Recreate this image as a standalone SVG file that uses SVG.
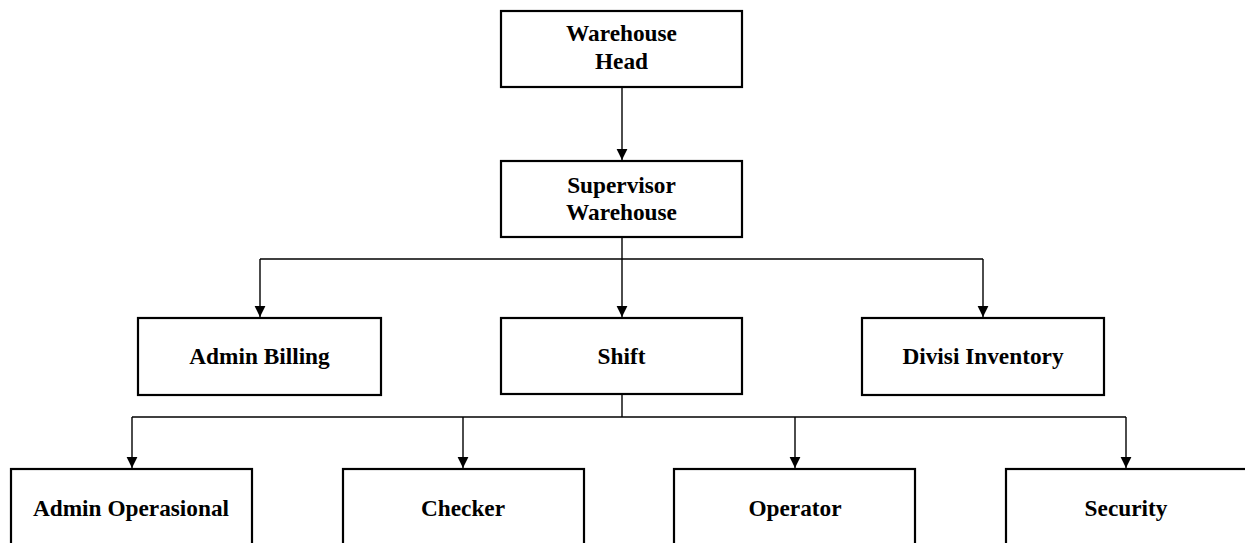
<svg xmlns="http://www.w3.org/2000/svg" width="1245" height="543" viewBox="0 0 1245 543">
<style>
.box{fill:#fff;stroke:#000;stroke-width:2.2}
.lbl{font-family:"Liberation Serif","Times New Roman",serif;font-weight:bold;font-size:23.3px;fill:#000;text-anchor:middle}
.con{fill:none;stroke:#000;stroke-width:1.4}
</style>
<defs>
<marker id="arr" markerUnits="userSpaceOnUse" markerWidth="12" markerHeight="12" viewBox="0 0 12 12" refX="11" refY="6" orient="auto">
<path d="M0,0.6 L11,6 L0,11.4 Z" fill="#000"/>
</marker>
</defs>
<rect width="1245" height="543" fill="#fff"/>
<g id="connectors">
<path class="con" d="M622,87 V160" marker-end="url(#arr)"/>
<path class="con" d="M622,237 V317" marker-end="url(#arr)"/>
<path class="con" d="M260,259 H983"/>
<path class="con" d="M260,259 V317" marker-end="url(#arr)"/>
<path class="con" d="M983,259 V317" marker-end="url(#arr)"/>
<path class="con" d="M622,394 V417"/>
<path class="con" d="M132,417 H1126"/>
<path class="con" d="M132,417 V468" marker-end="url(#arr)"/>
<path class="con" d="M463,417 V468" marker-end="url(#arr)"/>
<path class="con" d="M795,417 V468" marker-end="url(#arr)"/>
<path class="con" d="M1126,417 V468" marker-end="url(#arr)"/>
</g>
<g id="warehouse-head">
<rect class="box" x="501" y="11" width="241" height="76"/>
<text class="lbl" x="621.5" y="41">Warehouse</text>
<text class="lbl" x="621.5" y="69">Head</text>
</g>
<g id="supervisor-warehouse">
<rect class="box" x="501" y="161" width="241" height="76"/>
<text class="lbl" x="621.5" y="193">Supervisor</text>
<text class="lbl" x="621.5" y="220">Warehouse</text>
</g>
<g id="admin-billing">
<rect class="box" x="138" y="318" width="243" height="77"/>
<text class="lbl" x="259.5" y="364">Admin Billing</text>
</g>
<g id="shift">
<rect class="box" x="501" y="318" width="241" height="76"/>
<text class="lbl" x="621.5" y="364">Shift</text>
</g>
<g id="divisi-inventory">
<rect class="box" x="862" y="318" width="242" height="77"/>
<text class="lbl" x="983" y="364">Divisi Inventory</text>
</g>
<g id="admin-operasional">
<rect class="box" x="11" y="469" width="241" height="90"/>
<text class="lbl" x="131" y="516">Admin Operasional</text>
</g>
<g id="checker">
<rect class="box" x="343" y="469" width="241" height="90"/>
<text class="lbl" x="463" y="516">Checker</text>
</g>
<g id="operator">
<rect class="box" x="674" y="469" width="241" height="90"/>
<text class="lbl" x="795" y="516">Operator</text>
</g>
<g id="security">
<rect class="box" x="1006" y="469" width="250" height="90"/>
<text class="lbl" x="1126" y="516">Security</text>
</g>
</svg>
